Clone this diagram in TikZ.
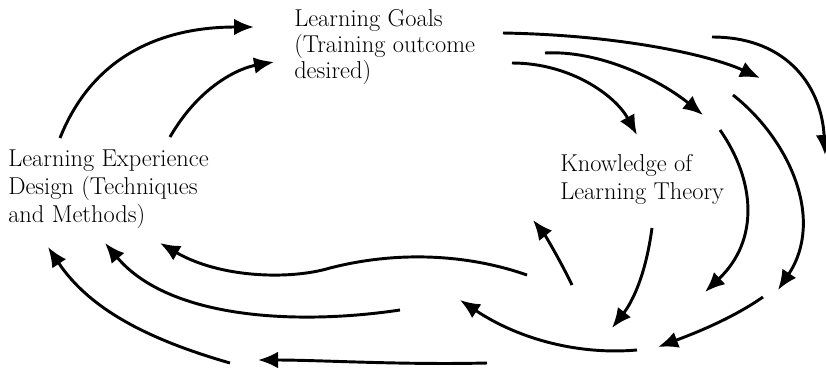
\documentclass[tikz,border=0pt]{standalone}
\usepackage{tikz}
\usetikzlibrary{arrows.meta}

\begin{document}
\begin{tikzpicture}[x=0.75pt,y=-0.75pt,
 lbl/.style={anchor=north west,inner sep=0pt,align=left,font=\fontsize{18.3}{21}\selectfont},
 flow/.style={-{Latex[length=15pt,width=12.5pt]},line width=2.2pt,black}]
\useasboundingbox (0,0) rectangle (826,369);
% the three stations of the cycle
\node[lbl,font=\fontsize{18.3}{19.5}\selectfont] (goals) at (294,9) {Learning Goals\\(Training outcome\\desired)};
\node[lbl] (design) at (8,150) {Learning Experience\\Design (Techniques\\and Methods)};
\node[lbl] (theory) at (560,154) {Knowledge of\\Learning Theory};
% free ends of the arrows
\coordinate (up1s) at (60,138);  \coordinate (up1e) at (254,27);
\coordinate (up2s) at (170,137); \coordinate (up2e) at (274,62);
\coordinate (t1s) at (503,33);   \coordinate (t1e) at (760,78);
\coordinate (t2s) at (712,37);   \coordinate (t2e) at (825,155);
\coordinate (t3s) at (545,53);   \coordinate (t3e) at (703,115);
\coordinate (t4s) at (512,63);   \coordinate (t4e) at (637,135);
\coordinate (r1s) at (733,95);   \coordinate (r1e) at (778,290);
\coordinate (r2s) at (720,130);  \coordinate (r2e) at (705,292);
\coordinate (k1s) at (652,228);  \coordinate (k1e) at (612,328);
\coordinate (k2s) at (763,297);  \coordinate (k2e) at (658,347);
\coordinate (u1s) at (572,285);  \coordinate (u1e) at (533,220);
\coordinate (b1s) at (637,350);  \coordinate (b1e) at (460,300);
\coordinate (b2s) at (527,275);  \coordinate (b2e) at (160,243);
\coordinate (b3s) at (400,310);  \coordinate (b3e) at (105,243);
\coordinate (b4s) at (487,363);  \coordinate (b4e) at (258,360);
\coordinate (b5s) at (230,363);  \coordinate (b5e) at (48,247);
% design -> goals
\draw[flow] (up1s) .. controls (95,50) and (170,27) .. (up1e);
\draw[flow] (up2s) .. controls (200,85) and (240,68) .. (up2e);
% goals -> theory
\draw[flow] (t1s) .. controls (620,35) and (710,55) .. (t1e);
\draw[flow] (t2s) .. controls (790,37) and (822,90) .. (t2e);
\draw[flow] (t3s) .. controls (600,50) and (660,80) .. (t3e);
\draw[flow] (t4s) .. controls (570,63) and (615,95) .. (t4e);
% down the right side
\draw[flow] (r1s) .. controls (790,140) and (825,220) .. (r1e);
\draw[flow] (r2s) .. controls (755,180) and (760,240) .. (r2e);
\draw[flow] (k1s) .. controls (645,280) and (630,305) .. (k1e);
\draw[flow] (k2s) .. controls (730,320) and (690,335) .. (k2e);
\draw[flow] (u1s) .. controls (560,260) and (545,235) .. (u1e);
% theory -> design
\draw[flow] (b1s) .. controls (580,355) and (520,340) .. (b1e);
\draw[flow] (b2s) .. controls (470,255) and (400,250) .. (330,268)
  .. controls (290,280) and (220,278) .. (b2e);
\draw[flow] (b3s) .. controls (300,325) and (170,320) .. (b3e);
\draw[flow] (b4s) .. controls (400,365) and (320,360) .. (b4e);
\draw[flow] (b5s) .. controls (150,340) and (90,310) .. (b5e);
\end{tikzpicture}
\end{document}
